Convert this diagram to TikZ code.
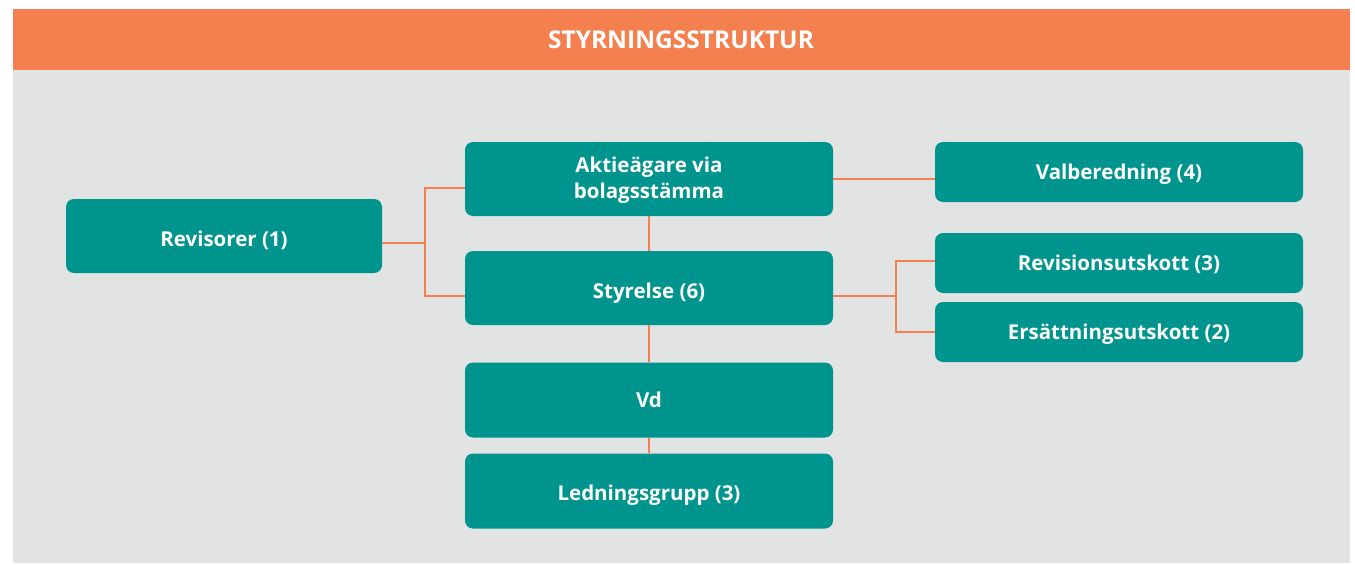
\documentclass[tikz,border=0pt]{standalone}
\usepackage{fontspec}
\setmainfont{Open Sans}
\usepackage{tikz}
\usetikzlibrary{calc}
\definecolor{orgteal}  {RGB}{0,   148, 143}
\definecolor{orgorange}{RGB}{244, 128, 80}
\definecolor{orggray}  {RGB}{226, 228, 227}

\begin{document}
\begin{tikzpicture}[x=1pt,y=-1pt,
		unit/.style={fill=orgteal,rounded corners=8pt,inner sep=0pt,text=white,
			font=\fontsize{20.5}{26}\selectfont\bfseries,align=center,
			text height=23pt,text depth=2pt,
			minimum width=368pt,minimum height=74pt},
		smallunit/.style={unit,minimum height=60pt,text height=16pt},
		link/.style={orgorange,line width=2.8pt}]
				% background and header
				\useasboundingbox (0,0) rectangle (1355,565);
				\fill[white] (0,0) rectangle (1355,565);
				\fill[orggray] (13,70) rectangle (1350,563);
				\fill[orgorange] (13,9) rectangle (1350,70);
				\node[text=white,font=\fontsize{24.5}{26}\selectfont\bfseries] (title) at (681,40) {STYRNINGSSTRUKTUR};
				% boxes
				\node[unit,minimum width=316pt] (rev) at (224,236) {Revisorer (1)};
				\node[unit,text height=41pt] (agare) at (649,179) {Aktieägare via\\bolagsstämma};
				\node[unit] (styr) at (649,288) {Styrelse (6)};
				\node[unit,minimum height=75pt,text height=17pt] (vd) at (649,400) {Vd};
				\node[unit,minimum height=75pt,text height=21pt] (ledn) at (649,491) {Ledningsgrupp (3)};
				\node[smallunit] (valb) at (1119,172) {Valberedning (4)};
				\node[smallunit] (revu) at (1119,263) {Revisionsutskott (3)};
				\node[smallunit] (ers) at (1119,332) {Ersättningsutskott (2)};
				% connectors
				\draw[link] ($(rev.east)+(0,7)$) -- (425,243);
				\draw[link] ($(agare.west)+(0,9)$) -| (425,243) |- ($(styr.west)+(0,8)$);
				\draw[link] (agare.east) -- (valb.west |- agare.east);
				\draw[link] ($(styr.east)+(0,8)$) -- (896,296);
				\draw[link] ($(revu.west)+(0,-2)$) -| (896,296) |- (ers.west);
				\draw[link] (agare.south) -- (styr.north);
				\draw[link] (styr.south) -- (vd.north);
				\draw[link] (vd.south) -- (ledn.north);
			\end{tikzpicture}
\end{document}
